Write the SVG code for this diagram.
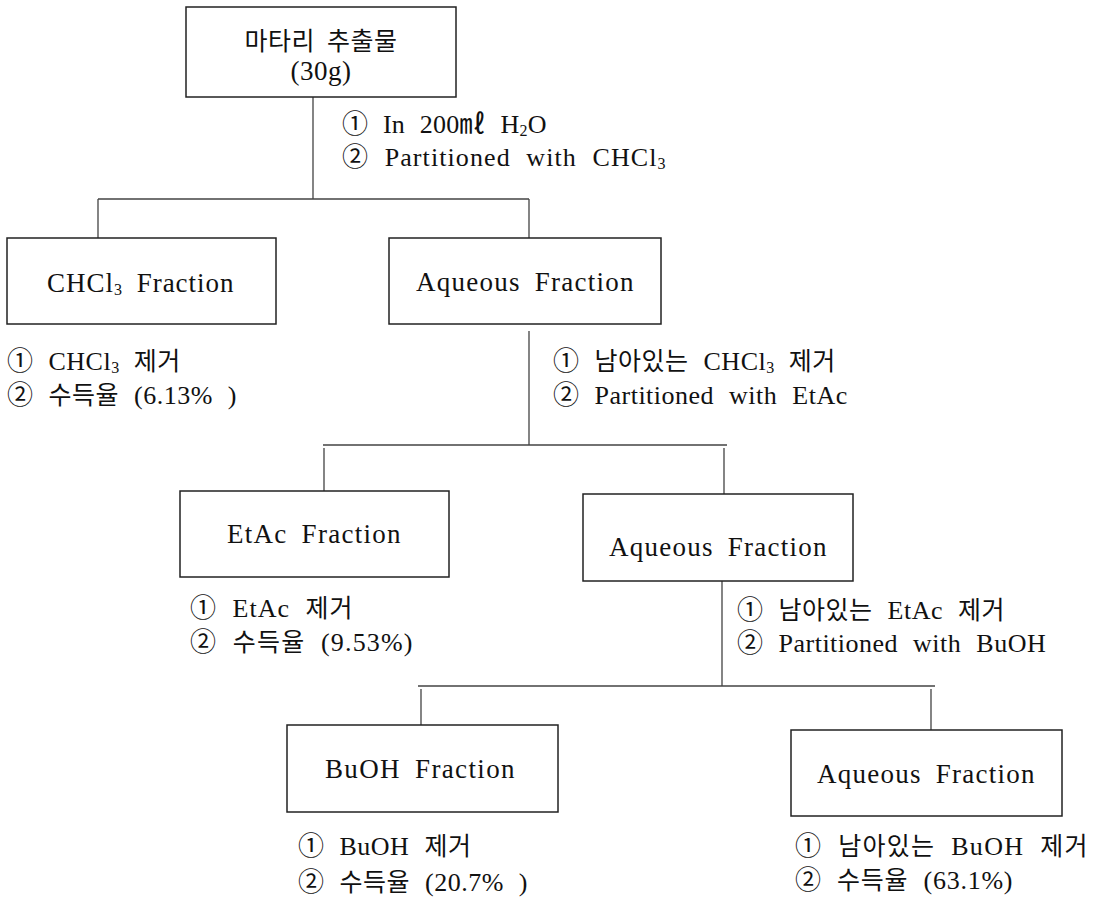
<svg xmlns="http://www.w3.org/2000/svg" width="1097" height="905" viewBox="0 0 1097 905">
<style>
.box{fill:#fff;stroke:#222;stroke-width:1.5}
.ln{stroke:#444;stroke-width:1.3;fill:none}
.t{font-family:"Liberation Serif","Noto Sans CJK KR",serif;font-size:27px;fill:#111;letter-spacing:0.5px;word-spacing:6px}
.n{font-family:"Liberation Serif","Noto Sans CJK KR",serif;font-size:26px;fill:#111;letter-spacing:0.5px;word-spacing:8px}
.c{text-anchor:middle}
.k{font-family:"Noto Sans CJK KR","Liberation Serif",sans-serif;font-size:25px}
.s{font-size:16px}
</style>
<rect width="1097" height="905" fill="#fff"/>
<g id="connectors">
<path class="ln" d="M313 97V199M98 199H529M98 199V238M529 199V238"/>
<path class="ln" d="M529 331V445M323 445H727M324 448V491M724 448V494"/>
<path class="ln" d="M722 581V686M418 686H935M421 689V725M931 689V730"/>
</g>
<g id="n0">
<rect class="box" x="186" y="7" width="270" height="90"/>
<text class="t c" x="321" y="50"><tspan class="k" font-size="26">마타리 추출물</tspan></text>
<text class="t c" x="321" y="80">(30g)</text>
</g>
<g id="lbl0">
<text class="n" x="342" y="133" textLength="205">① In 200㎖ H<tspan class="s" dy="3">2</tspan><tspan dy="-3">O</tspan></text>
<text class="n" x="342" y="166" textLength="324">② Partitioned with CHCl<tspan class="s" dy="3">3</tspan></text>
</g>
<g id="n1">
<rect class="box" x="7" y="238" width="269" height="86"/>
<text class="t" x="47" y="292" textLength="187">CHCl<tspan class="s" dy="3">3</tspan><tspan dy="-3"> Fraction</tspan></text>
</g>
<g id="n1note">
<text class="n" x="7" y="370">① CHCl<tspan class="s" dy="3">3</tspan><tspan dy="-3" class="k"> 제거</tspan></text>
<text class="n" x="7" y="404">② <tspan class="k">수득율</tspan> (6.13% )</text>
</g>
<g id="n2">
<rect class="box" x="389" y="238" width="272" height="86"/>
<text class="t c" x="525" y="291" textLength="218">Aqueous Fraction</text>
</g>
<g id="n2note">
<text class="n" x="553" y="370">① <tspan class="k">남아있는</tspan> CHCl<tspan class="s" dy="3">3</tspan><tspan dy="-3" class="k"> 제거</tspan></text>
<text class="n" x="553" y="404">② Partitioned with EtAc</text>
</g>
<g id="n3">
<rect class="box" x="180" y="491" width="269" height="86"/>
<text class="t c" x="314" y="543" textLength="174">EtAc Fraction</text>
</g>
<g id="n3note">
<text class="n" x="190" y="617" textLength="163">① EtAc <tspan class="k">제거</tspan></text>
<text class="n" x="190" y="651" textLength="223">② <tspan class="k">수득율</tspan> (9.53%)</text>
</g>
<g id="n4">
<rect class="box" x="583" y="494" width="270" height="87"/>
<text class="t c" x="718" y="556" textLength="218">Aqueous Fraction</text>
</g>
<g id="n4note">
<text class="n" x="737" y="619">① <tspan class="k">남아있는</tspan> EtAc <tspan class="k">제거</tspan></text>
<text class="n" x="737" y="652">② Partitioned with BuOH</text>
</g>
<g id="n5">
<rect class="box" x="287" y="725" width="271" height="87"/>
<text class="t c" x="420" y="778" textLength="190">BuOH Fraction</text>
</g>
<g id="n5note">
<text class="n" x="298" y="855">① BuOH <tspan class="k">제거</tspan></text>
<text class="n" x="298" y="891">② <tspan class="k">수득율</tspan> (20.7% )</text>
</g>
<g id="n6">
<rect class="box" x="791" y="730" width="271" height="86"/>
<text class="t c" x="926" y="783" textLength="218">Aqueous Fraction</text>
</g>
<g id="n6note">
<text class="n" x="795" y="855" textLength="293">① <tspan class="k">남아있는</tspan> BuOH <tspan class="k">제거</tspan></text>
<text class="n" x="795" y="889" textLength="218">② <tspan class="k">수득율</tspan> (63.1%)</text>
</g>
</svg>
